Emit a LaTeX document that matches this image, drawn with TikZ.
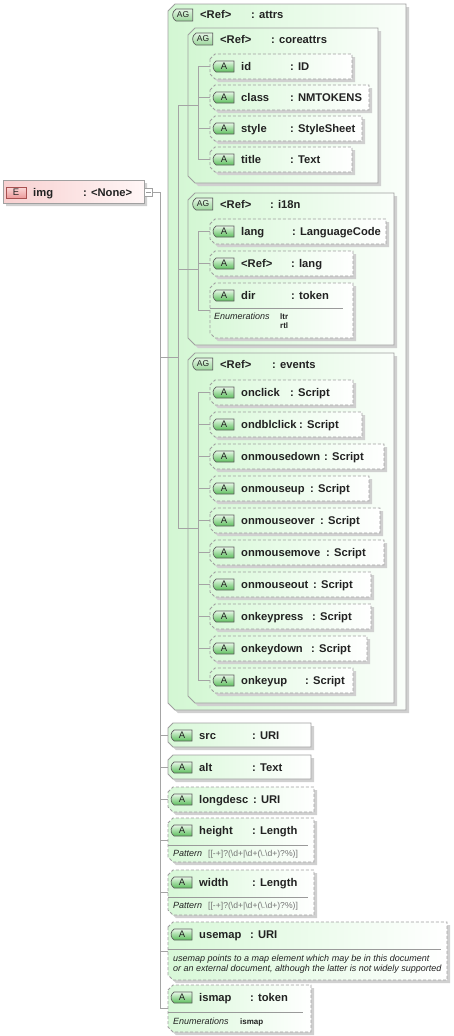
\documentclass[tikz,border=0pt]{standalone}
\usepackage{fontspec}
\setmainfont{Liberation Sans}
\usepackage{tikz}
\usetikzlibrary{positioning,shapes.misc,calc}
\definecolor{edge}{HTML}{A0A0A0}
\definecolor{conncol}{HTML}{A4A4A4}
\definecolor{sepcol}{HTML}{9A9A9A}
\definecolor{shadowc}{HTML}{D0D0D0}
\definecolor{grpL}{HTML}{D3F7D3}
\definecolor{grpR}{HTML}{FAFEFA}
\definecolor{attL}{HTML}{D8F8D8}
\definecolor{attR}{HTML}{FFFFFF}
\definecolor{pinkL}{HTML}{F8D0D0}
\definecolor{pinkR}{HTML}{FFF6F6}
\definecolor{txt}{HTML}{222222}
\definecolor{badgeT}{HTML}{E6F8E6}
\definecolor{badgeB}{HTML}{5CBE5C}
\definecolor{badgeD}{HTML}{5E5E5E}
\definecolor{agT}{HTML}{E4F5E4}
\definecolor{agB}{HTML}{9AD69A}
\definecolor{eT}{HTML}{FBD8D8}
\definecolor{eB}{HTML}{EC9A9A}
\definecolor{eD}{HTML}{A85050}

% box outline, left corners cut: node, cut, line style, left/right fill
\newcommand\chbox[5]{%
  \fill[shadowc] ([xshift=3pt,yshift={-#2-3pt}]#1.north west) -- ([xshift={#2+3pt},yshift=-3pt]#1.north west)
    -- ([xshift=3pt,yshift=-3pt]#1.north east) -- ([xshift=3pt,yshift=-3pt]#1.south east)
    -- ([xshift={#2+3pt},yshift=-3pt]#1.south west) -- ([xshift=3pt,yshift={#2-3pt}]#1.south west) -- cycle;
  \shade[left color=#4,right color=#5] ([yshift=-#2]#1.north west) -- ([xshift=#2]#1.north west)
    -- (#1.north east) -- (#1.south east) -- ([xshift=#2]#1.south west) -- ([yshift=#2]#1.south west) -- cycle;
  \draw[#3] ([yshift=-#2]#1.north west) -- ([xshift=#2]#1.north west)
    -- (#1.north east) -- (#1.south east) -- ([xshift=#2]#1.south west) -- ([yshift=#2]#1.south west) -- cycle;}

% attribute group: name, left, top, right, bottom, type x, type
\newcommand\grpbox[7]{%
  \node[boxnode,minimum width={(#4-#2)*1pt},minimum height={(#5-#3)*1pt},anchor=north west] (#1) at (#2,#3) {};
  \chbox{#1}{7pt}{boxline}{grpL}{grpR}
  \node[agbadge] (#1b) at (#2+15,#3+11) {AG};
  \node[nm] (#1n) at (#2+32,#3+15) {<Ref>};
  \node[nm] (#1t) at (#6,#3+15) {: #7};}

% attribute: name, left, top, right, height, label, type x, type, line style
\newcommand\attbox[9]{%
  \node[boxnode,minimum width={(#4-#2)*1pt},minimum height={#5*1pt},anchor=north west] (#1) at (#2,#3) {};
  \chbox{#1}{5pt}{#9}{attL}{attR}
  \node[abadge] (#1b) at (#2+14,#3+12.5) {A};
  \node[nm] (#1n) at (#2+31,#3+16) {#6};
  \node[nm] (#1t) at (#7,#3+16) {: #8};}

\begin{document}
\begin{tikzpicture}[x=1pt,y=-1pt,
  boxnode/.style={rectangle,draw=none,inner sep=0pt,outer sep=0pt},
  boxline/.style={draw=edge,line width=0.8pt},
  dashline/.style={draw=edge,line width=0.8pt,dash pattern=on 3pt off 2pt},
  conn/.style={draw=conncol,line width=0.8pt},
  sepline/.style={draw=sepcol,line width=0.8pt},
  nm/.style={anchor=base west,inner sep=0pt,text=txt,font=\fontsize{11.2}{13}\selectfont\bfseries},
  itxt/.style={anchor=base west,inner sep=0pt,text=txt,font=\fontsize{9}{11}\selectfont\itshape},
  valtxt/.style={anchor=base west,inner sep=0pt,text=txt,font=\fontsize{8}{10}\selectfont\bfseries},
  pattxt/.style={anchor=base west,inner sep=0pt,text=black!55,font=\fontsize{8.6}{10}\selectfont},
  abadge/.style={rounded rectangle,rounded rectangle right arc=none,rounded rectangle arc length=120,
    minimum width=21pt,minimum height=11pt,inner sep=0pt,top color=badgeT,bottom color=badgeB,
    draw=badgeD,line width=0.7pt,text=txt,font=\fontsize{9.5}{9}\selectfont},
  agbadge/.style={rounded rectangle,rounded rectangle right arc=none,rounded rectangle arc length=120,
    minimum width=20pt,minimum height=12pt,inner sep=0pt,top color=agT,bottom color=agB,
    draw=badgeD,line width=0.7pt,text=txt,font=\fontsize{8.5}{9}\selectfont},
  ebadge/.style={rectangle,minimum width=20pt,minimum height=11pt,inner sep=0pt,top color=eT,bottom color=eB,
    draw=eD,line width=0.7pt,text=txt,font=\fontsize{9.5}{9}\selectfont},
  minusbox/.style={rectangle,minimum size=8pt,inner sep=0pt,outer sep=0pt,fill=white,draw=edge,line width=0.8pt}]
  \fill[white] (0,0) rectangle (454,1036);
  \useasboundingbox (0,0) rectangle (454,1036);

  % element
  \node[boxnode,minimum width=141pt,minimum height=23pt,anchor=north west] (img) at (3,180) {};
  \chbox{img}{0pt}{boxline}{pinkL}{pinkR}
  \node[ebadge] (imgb) at (16,192.5) {E};
  \node[nm] (imgn) at (33,196) {img};
  \node[nm] (imgt) at (83,196) {: <None>};
  \node[minusbox] (imgm) at (148.5,192) {};
  \draw[sepline] ([xshift=-2.5pt]imgm.center) -- ([xshift=2.5pt]imgm.center);

  % attrs group
  \grpbox{attrs}{168}{4}{406}{710}{251}{attrs}
  \grpbox{coreattrs}{188}{28}{378}{183}{271}{coreattrs}
  \attbox{id}{210}{54}{352}{25}{id}{290}{ID}{dashline}
  \attbox{class}{210}{85}{369}{25}{class}{290}{NMTOKENS}{dashline}
  \attbox{style}{210}{116}{362}{25}{style}{290}{StyleSheet}{dashline}
  \attbox{title}{210}{147}{352}{25}{title}{290}{Text}{dashline}

  \grpbox{i18n}{188}{193}{394}{345}{270}{i18n}
  \attbox{lang}{210}{219}{386}{25}{lang}{292}{LanguageCode}{dashline}
  \attbox{reflang}{210}{251}{353}{25}{<Ref>}{291}{lang}{dashline}
  \attbox{dir}{210}{283}{353}{55}{dir}{291}{token}{dashline}
  \draw[sepline] (210,308) -- (343,308);
  \node[itxt] (dire) at (214,319) {Enumerations};
  \node[valtxt] (dirv1) at (280,319) {ltr};
  \node[valtxt] (dirv2) at (280,328.5) {rtl};

  \grpbox{events}{188}{353}{394}{703}{272}{events}
  \foreach \n/\t/\r/\c in {onclick/380/353/290,ondblclick/412/362/299,onmousedown/444/384/324,
      onmouseup/476/369/310,onmouseover/508/380/320,onmousemove/540/384/326,onmouseout/572/371/313,
      onkeypress/604/371/312,onkeydown/636/367/311,onkeyup/668/353/305}
    {\attbox{\n}{210}{\t}{\r}{25}{\n}{\c}{Script}{dashline}}

  % plain attributes
  \attbox{src}{168}{723}{311}{24}{src}{252}{URI}{boxline}
  \attbox{alt}{168}{755}{311}{24}{alt}{252}{Text}{boxline}
  \attbox{longdesc}{168}{787}{314}{25}{longdesc}{253}{URI}{dashline}
  \attbox{height}{168}{818}{314}{44}{height}{252}{Length}{dashline}
  \draw[sepline] (168,845) -- (308,845);
  \node[itxt] (heightp) at (173,856) {Pattern};
  \node[pattxt] (heightv) at (208,856) {[[-+]?(\textbackslash d+|\textbackslash d+(\textbackslash .\textbackslash d+)?\%)]};
  \attbox{width}{168}{870}{314}{45}{width}{252}{Length}{dashline}
  \draw[sepline] (168,897) -- (308,897);
  \node[itxt] (widthp) at (173,908) {Pattern};
  \node[pattxt] (widthv) at (208,908) {[[-+]?(\textbackslash d+|\textbackslash d+(\textbackslash .\textbackslash d+)?\%)]};
  \attbox{usemap}{168}{922}{447}{58}{usemap}{250}{URI}{dashline}
  \draw[sepline] (168,949) -- (441,949);
  \node[itxt] (usemapd1) at (173,961) {usemap points to a map element which may be in this document};
  \node[itxt] (usemapd2) at (173,971) {or an external document, although the latter is not widely supported};
  \attbox{ismap}{168}{985}{311}{47}{ismap}{250}{token}{dashline}
  \draw[sepline] (168,1012) -- (303,1012);
  \node[itxt] (ismape) at (173,1024) {Enumerations};
  \node[valtxt] (ismapv) at (240,1024) {ismap};

  % connectors
  \coordinate (busA) at ([xshift=8pt]imgm.east);
  \coordinate (attrsJ) at ([xshift=10pt]attrs.west);
  \coordinate (coreJ) at ([xshift=10pt]coreattrs.west);
  \coordinate (i18nJ) at ([xshift=10pt]i18n.west);
  \coordinate (eventsJ) at ([xshift=10pt]events.west);
  \draw[conn] (imgm.east) -- (busA) |- (ismap.west);
  \draw[conn] (busA |- attrsJ) -- (attrsJ);
  \foreach \c in {src,alt,longdesc,height,width,usemap}
    \draw[conn] (busA |- \c.west) -- (\c.west);
  \draw[conn] (attrsJ |- coreJ) -- (attrsJ |- eventsJ);
  \foreach \g in {coreJ,i18nJ,eventsJ}
    \draw[conn] (attrsJ |- \g) -- (\g);
  \draw[conn] (coreJ |- id.west) -- (coreJ |- title.west);
  \foreach \c in {id,class,style,title}
    \draw[conn] (coreJ |- \c.west) -- (\c.west);
  \draw[conn] (i18nJ |- lang.west) -- (i18nJ |- dir.west);
  \foreach \c in {lang,reflang,dir}
    \draw[conn] (i18nJ |- \c.west) -- (\c.west);
  \draw[conn] (eventsJ |- onclick.west) -- (eventsJ |- onkeyup.west);
  \foreach \c in {onclick,ondblclick,onmousedown,onmouseup,onmouseover,onmousemove,onmouseout,onkeypress,onkeydown,onkeyup}
    \draw[conn] (eventsJ |- \c.west) -- (\c.west);
\end{tikzpicture}
\end{document}
